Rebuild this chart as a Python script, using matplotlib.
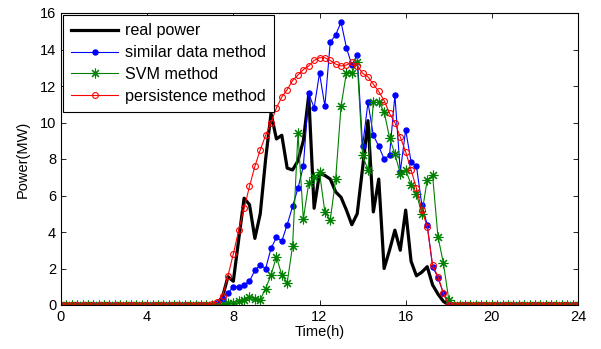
import numpy as np
import matplotlib
matplotlib.use("Agg")
import matplotlib.pyplot as plt

plt.rcParams['font.family'] = ['Liberation Sans', 'DejaVu Sans']

# time axis: 15-minute samples over 24 h
hours = np.arange(0, 24.001, 0.25)

night_am = [0.0] * 28   # 0:00 .. 6:45
night_pm = [0.0] * 23   # 18:30 .. 24:00

# daytime values 7:00 .. 18:15
real_day = [0.0, 0.1, 0.45, 1.55, 1.3, 3.6, 5.85, 5.5, 3.65, 5.0, 8.0, 10.5,
            9.1, 9.3, 7.5, 7.4, 7.9, 9.0, 11.5, 5.3, 7.2, 7.1, 6.9, 6.2,
            5.9, 5.2, 4.4, 5.0, 7.5, 10.1, 5.1, 6.9, 2.0, 3.0, 4.1, 3.0,
            5.2, 2.4, 1.6, 1.8, 2.1, 1.1, 0.6, 0.2, 0.0, 0.0]
similar_day = [0.0, 0.1, 0.35, 0.65, 1.0, 1.0, 1.1, 1.3, 1.9, 2.2, 2.0, 3.1,
               3.7, 3.5, 4.4, 5.4, 6.4, 7.6, 11.6, 10.8, 12.7, 10.9, 14.4, 14.8,
               15.5, 14.1, 13.15, 13.7, 8.7, 11.1, 9.3, 8.7, 8.0, 8.2, 11.5, 7.3,
               9.6, 7.85, 7.6, 5.5, 4.4, 2.1, 1.5, 0.65, 0.0, 0.0]
svm_day = [0.0, 0.0, 0.05, 0.1, 0.1, 0.2, 0.3, 0.45, 0.33, 0.3, 0.9, 1.64,
           2.65, 1.64, 1.22, 3.23, 9.4, 4.71, 6.67, 7.0, 7.27, 5.08, 4.66, 6.89,
           10.9, 12.73, 12.73, 13.3, 8.2, 7.4, 11.1, 11.1, 10.6, 9.17, 8.27, 7.2,
           7.4, 6.6, 6.1, 5.0, 6.85, 7.1, 3.74, 2.3, 0.3, 0.0]
persist_day = [0.05, 0.15, 0.5, 1.6, 2.8, 4.1, 5.3, 6.5, 7.6, 8.5, 9.3, 10.0,
               10.8, 11.4, 11.8, 12.3, 12.6, 12.9, 13.1, 13.4, 13.55, 13.55, 13.4, 13.2,
               13.1, 13.15, 13.3, 13.1, 12.7, 12.5, 12.1, 11.7, 11.2, 10.5, 10.0, 9.2,
               8.4, 7.4, 6.4, 5.2, 4.3, 2.2, 1.55, 0.65, 0.0, 0.0]

real_power = night_am + real_day + night_pm
similar = night_am + similar_day + night_pm
svm = night_am + svm_day + night_pm
persistence = night_am + persist_day + night_pm

xticks = [0, 4, 8, 12, 16, 20, 24]
yticks = [0, 2, 4, 6, 8, 10, 12, 14, 16]

fig = plt.figure(figsize=(6.01, 3.49), dpi=100)
ax = fig.add_axes([61/601, 44/349, 517/601, 292/349])

ax.plot(hours, real_power, color='black', lw=2.3, label='real power')
ax.plot(hours, similar, color='blue', lw=0.8, marker='o', ms=3.6,
        mfc='blue', mec='blue', label='similar data method')
ax.plot(hours, svm, color='green', lw=0.8, marker=(8, 2, 0), ms=7,
        mfc='green', mec='green', mew=0.8, label='SVM method')
ax.plot(hours, persistence, color='red', lw=0.8, marker='o', ms=4.2,
        mfc='none', mec='red', mew=0.8, label='persistence method')

ax.set_xlim(0, 24)
ax.set_ylim(0, 16)
ax.set_xticks(xticks)
ax.set_yticks(yticks)
ax.tick_params(direction='in', top=True, right=True, length=3.5,
               labelsize=10.5, width=0.6)
for s in ax.spines.values():
    s.set_linewidth(0.8)
ax.set_xlabel('Time(h)', fontsize=10.5, labelpad=1)
ax.set_ylabel('Power(MW)', fontsize=10.5, labelpad=7)

leg = ax.legend(loc='upper left', fontsize=11.6, numpoints=1,
                handlelength=2.9, handletextpad=0.4, borderaxespad=0.15,
                labelspacing=0.42, borderpad=0.5, fancybox=False,
                framealpha=1, edgecolor='black')
leg.get_frame().set_linewidth(0.8)

fig.savefig('out.png', dpi=100)
